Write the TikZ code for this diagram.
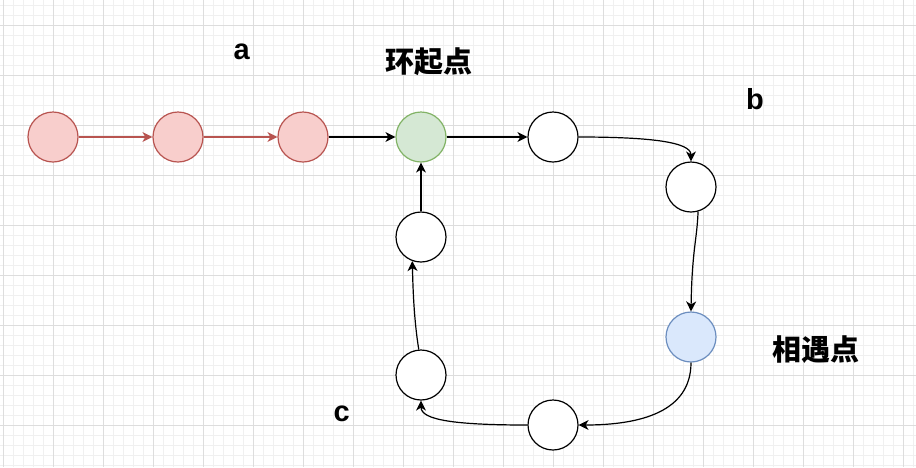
\documentclass[tikz,border=0pt]{standalone}
\usepackage{fontspec}
\setmainfont{Liberation Sans}
\newfontfamily\cjk{Noto Sans CJK SC}
\usetikzlibrary{arrows.meta}
\definecolor{NodeRed}{HTML}{F8CECC}
\definecolor{EdgeRed}{HTML}{B85450}
\definecolor{NodeGreen}{HTML}{D5E8D4}
\definecolor{EdgeGreen}{HTML}{82B366}
\definecolor{NodeBlue}{HTML}{DAE8FC}
\definecolor{EdgeBlue}{HTML}{6C8EBF}
\definecolor{GridMinor}{HTML}{F0F0F0}
\definecolor{GridMajor}{HTML}{DDDDDD}
\tikzset{
  lnode/.style={circle, minimum size=50pt, inner sep=0pt, line width=1.2pt},
  plainnode/.style={lnode, draw=black, fill=white},
  tailnode/.style={lnode, draw=EdgeRed, fill=NodeRed},
  entrynode/.style={lnode, draw=EdgeGreen, fill=NodeGreen},
  meetnode/.style={lnode, draw=EdgeBlue, fill=NodeBlue},
  arr/.style={-{Stealth[length=10pt, width=10pt, inset=3pt]}, line width=1.2pt},
  tailarr/.style={arr, EdgeRed},
  lbl/.style={font=\fontsize{29}{34}\selectfont\bfseries, inner sep=0pt},
}

\begin{document}
\begin{tikzpicture}[x=1pt, y=-1pt]
  \useasboundingbox (0,0) rectangle (916,467);
  \fill[white] (0,0) rectangle (916,467);
  % grid
  \foreach \x in {3,13,...,913} \draw[GridMinor, line width=0.8pt] (\x,0) -- (\x,467);
  \foreach \y in {5,15,...,465} \draw[GridMinor, line width=0.8pt] (0,\y) -- (916,\y);
  \foreach \x in {3,53,...,903} \draw[GridMajor, line width=0.8pt] (\x,0) -- (\x,467);
  \foreach \y in {25,75,...,425} \draw[GridMajor, line width=0.8pt] (0,\y) -- (916,\y);

  % list before the loop
  \foreach \x [count=\k] in {53,178,303}
    \node[tailnode] (t\k) at (\x,137) {};
  \node[entrynode] (entry) at (421,137) {};
  % the loop
  \node[plainnode] (p1) at (553,137) {};
  \node[plainnode] (p2) at (691,187) {};
  \node[meetnode] (meet) at (691,337) {};
  \node[plainnode] (p3) at (553,425) {};
  \node[plainnode] (p4) at (421,375) {};
  \node[plainnode] (p5) at (421,237) {};

  \draw[tailarr] (t1) -- (t2);
  \draw[tailarr] (t2) -- (t3);
  \draw[arr] (t3) -- (entry);
  \draw[arr] (entry) -- (p1);
  \draw[arr] (p1.east) .. controls (650,137) and (691,142) .. (p2.north);
  \draw[arr] (p2.-74) .. controls (697,240) and (692,250) .. (meet.north);
  \draw[arr] (meet.south) .. controls (691,412) and (640,425) .. (p3.east);
  \draw[arr] (p3.west) .. controls (455,425) and (421,420) .. (p4.south);
  \draw[arr] (p4.95) .. controls (414,320) and (413,290) .. (p5.-110);
  \draw[arr] (p5) -- (entry);

  % labels
  \node[lbl, anchor=base] (la) at (241.7,59) {a};
  \node[lbl, anchor=base] (lb) at (755,109) {b};
  \node[lbl, anchor=base] (lc) at (341.7,421.7) {c};
  \node[lbl, font=\cjk\fontsize{29}{34}\selectfont\bfseries] (lentry) at (428.5,62) {环起点};
  \node[lbl, font=\cjk\fontsize{29}{34}\selectfont\bfseries] (lmeet) at (816,350) {相遇点};
\end{tikzpicture}
\end{document}
